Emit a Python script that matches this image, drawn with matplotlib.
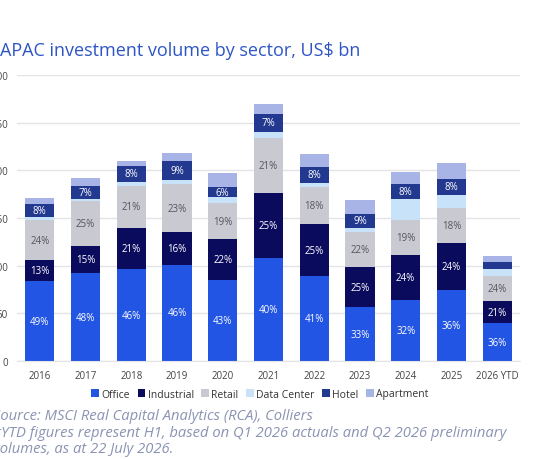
import matplotlib
matplotlib.use("Agg")
import matplotlib.pyplot as plt
import numpy as np

plt.rcParams["font.family"] = ["Open Sans", "DejaVu Sans"]

years = ["2016", "2017", "2018", "2019", "2020", "2021", "2022", "2023", "2024", "2025", "2026 YTD"]

# US$ bn by sector
office = [83.9, 92.0, 96.5, 100.7, 85.3, 107.8, 89.2, 56.2, 63.5, 74.5, 39.7]
industrial = [22.1, 28.5, 43.5, 34.5, 42.5, 68.4, 54.0, 42.1, 47.2, 49.5, 22.8]
retail = [41.4, 47.5, 43.8, 50.1, 37.8, 57.2, 38.9, 36.9, 37.2, 36.5, 27.0]
data_center = [3.6, 1.7, 4.2, 4.9, 6.0, 7.3, 4.9, 4.2, 22.5, 13.9, 7.0]
hotel = [13.2, 13.5, 16.4, 19.2, 11.2, 18.5, 16.5, 15.0, 15.4, 16.8, 7.7]
apartment = [6.8, 9.0, 5.3, 9.2, 14.4, 10.3, 14.1, 14.0, 12.8, 16.5, 6.3]

sectors = ["Office", "Industrial", "Retail", "Data Center", "Hotel", "Apartment"]
colors = ["#2255e4", "#0b0b5e", "#c9c9d1", "#c8e3f9", "#22398f", "#a8b4e6"]
label_colors = ["white", "white", "#555560", None, "white", None]

series = [office, industrial, retail, data_center, hotel, apartment]
totals = np.sum(series, axis=0)

fig = plt.figure(figsize=(5.4, 4.6), dpi=100)
ax = fig.add_axes([17 / 540, 1 - 362 / 460, 503 / 540, 286 / 460])

x = np.arange(len(years))
bottom = np.zeros(len(years))
for name, vals, col, lc in zip(sectors, series, colors, label_colors):
    vals = np.array(vals)
    ax.bar(x, vals, 0.64, bottom=bottom, color=col, label=name, zorder=2)
    if lc is not None:
        for xi, b, v, t in zip(x, bottom, vals, totals):
            if v >= 10:
                ax.text(xi, b + v / 2, f"{round(v / t * 100):.0f}%", ha="center", va="center",
                        fontsize=7, color=lc, zorder=3)
    bottom += vals

ax.set_xlim(-0.5, len(years) - 0.5)
ax.set_ylim(0, 300)
ax.set_yticks(range(0, 301, 50))
ax.set_xticks(x)
ax.set_xticklabels(years)
ax.grid(axis="y", color="#e3e3e8", linewidth=1, zorder=0)
for s in ["top", "right", "left"]:
    ax.spines[s].set_visible(False)
ax.spines["bottom"].set_color("#e3e3e8")
ax.tick_params(axis="both", length=0, labelsize=7, colors="#444444")
ax.tick_params(axis="y", pad=6.5)
ax.tick_params(axis="x", pad=6.5)

fig.legend(loc="center", bbox_to_anchor=(260 / 540, 1 - 395 / 460), ncol=6, frameon=False,
           fontsize=7.5, handlelength=0.7, handleheight=0.7, handletextpad=0.25,
           columnspacing=0.75, labelcolor="#333333")

fig.text(0, 1 - 56 / 460, "APAC investment volume by sector, US$ bn", fontsize=13,
         color="#2e55c6", va="baseline", ha="left")

src_color = "#8a93b2"
fig.text(-7 / 540, 1 - 420 / 460, "Source: MSCI Real Capital Analytics (RCA), Colliers",
         fontsize=10.6, style="italic", color=src_color, va="baseline")
fig.text(-7 / 540, 1 - 437 / 460,
         "*YTD figures represent H1, based on Q1 2026 actuals and Q2 2026 preliminary",
         fontsize=10.6, style="italic", color=src_color, va="baseline")
fig.text(-7 / 540, 1 - 453 / 460, "volumes, as at 22 July 2026.",
         fontsize=10.6, style="italic", color=src_color, va="baseline")

fig.savefig("out.png", dpi=100)
